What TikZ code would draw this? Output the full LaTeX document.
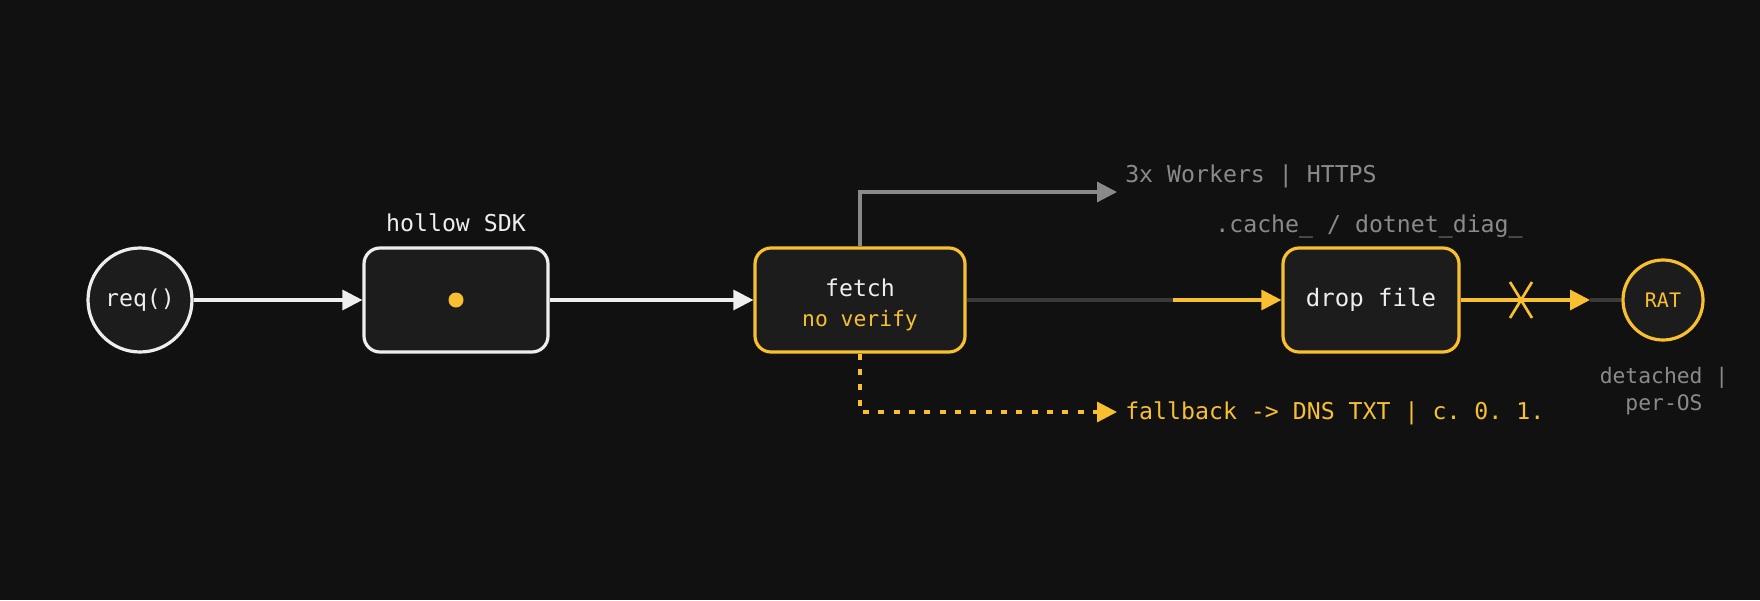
\documentclass[tikz,border=0pt]{standalone}
\usepackage{fontspec}
\setmonofont{DejaVu Sans Mono}
\usetikzlibrary{arrows.meta,calc}
\definecolor{bg}{HTML}{111111}
\definecolor{boxf}{HTML}{1C1C1C}
\definecolor{yel}{HTML}{F8C030}
\definecolor{wht}{HTML}{EEEEEE}
\definecolor{gry}{HTML}{8A8A8A}
\definecolor{dk}{HTML}{3A3A3A}
\begin{document}
\begin{tikzpicture}[x=0.75pt,y=-0.75pt,
  every node/.style={font=\ttfamily\fontsize{17.4}{20}\selectfont},
  box/.style={draw,line width=2.4pt,rounded corners=12pt,fill=boxf,minimum width=184*0.75pt,minimum height=104*0.75pt,inner sep=0},
  tip/.style={-{Triangle[length=20pt*0.75,width=20pt*0.75]}},
  lbl/.style={inner sep=0}]
\fill[bg] (0,0) rectangle (1760,600);
\node[circle,draw=wht,line width=2.4pt,fill=boxf,minimum size=104*0.75pt,text=wht] (req) at (140,300) {req()};
\node[box,draw=wht] (sdk) at (456,300) {};
\fill[yel] (456,300) circle (7.5*0.75pt);
\node[lbl,text=wht] (sdkt) at (456,223) {hollow SDK};
\node[box,draw=yel,minimum width=210*0.75pt] (fetch) at (860,300) {};
\node[lbl,text=wht] (f1) at (860,288) {fetch};
\node[lbl,text=yel,font=\ttfamily\fontsize{16}{19}\selectfont] (f2) at (860,321) {no verify};
\node[box,draw=yel,minimum width=176*0.75pt,text=wht,font=\ttfamily\fontsize{18}{20}\selectfont] (drop) at (1371,300) {drop file};
\node[lbl,text=gry] (cache) at (1369,226) {.cache\_ / dotnet\_diag\_};
\node[circle,draw=yel,line width=2.4pt,fill=boxf,minimum size=80*0.75pt,inner sep=0,text=yel,font=\ttfamily\fontsize{15}{18}\selectfont] (rat) at (1663,300) {RAT};
\node[lbl,text=gry,align=center,font=\ttfamily\fontsize{16}{20}\selectfont] (det) at (1664,391) {detached |\\per-OS};
\node[lbl,text=gry,anchor=west] (work) at (1125,176) {3x Workers | HTTPS};
\node[lbl,text=yel,anchor=west] (fb) at (1125,413) {fallback -> DNS TXT | c. 0. 1.};
\coordinate (wk) at (1117,192);
\coordinate (fk) at (1117,412);
\coordinate (ys) at (1173,300);
\coordinate (xm) at (1521,300);
\coordinate (rt) at (1590,300);
\draw[wht,line width=2.4pt,tip] (req) -- (sdk);
\draw[wht,line width=2.4pt,tip] (sdk) -- (fetch);
\draw[gry,line width=2.4pt,tip] (fetch.north) |- (wk);
\draw[yel,line width=2.4pt,dash pattern=on 4.5pt off 7pt,tip] (fetch.south) |- (fk);
\draw[dk,line width=2.4pt] (fetch.east) -- (ys);
\draw[yel,line width=2.4pt,tip] (ys) -- (drop.west);
\draw[yel,line width=2.4pt,tip] (drop.east) -- (rt);
\draw[dk,line width=2.4pt] (rt) -- (rat.west);
\draw[yel,line width=2pt] ($(xm)+(-11,-18)$) -- ($(xm)+(11,18)$) ($(xm)+(11,-18)$) -- ($(xm)+(-11,18)$);
\end{tikzpicture}
\end{document}
